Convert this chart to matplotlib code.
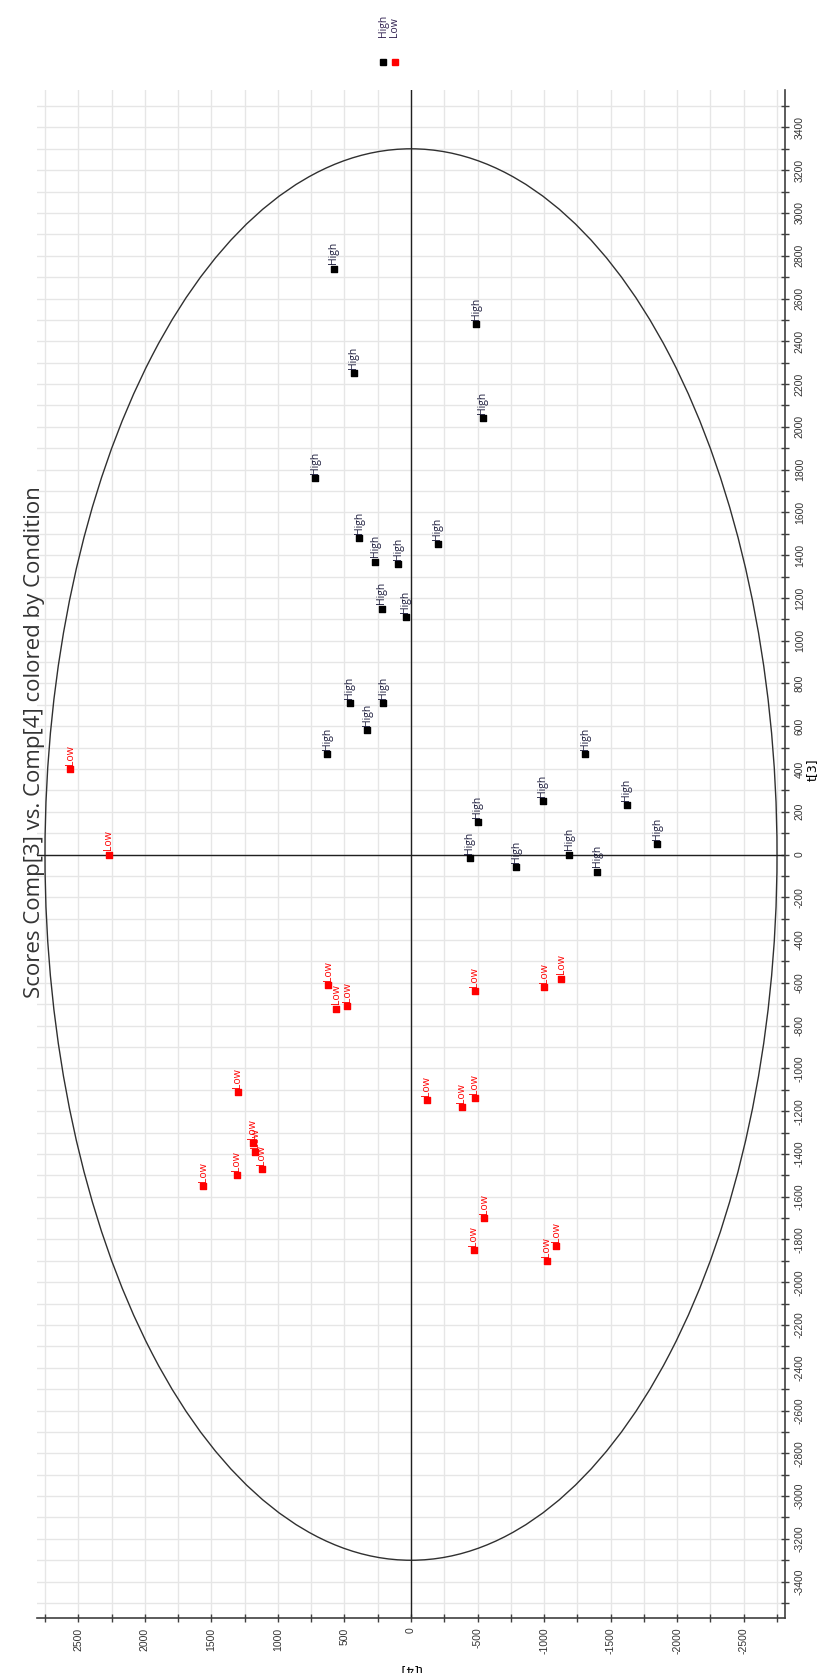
import numpy as np
import matplotlib.pyplot as plt
from matplotlib.patches import Ellipse
from matplotlib.ticker import MultipleLocator

plt.rcParams['axes.unicode_minus'] = False

# scores, t[4] (horizontal, reversed) and t[3] (vertical)
high_t4 = [580, -490, 430, -540, 720, 390, -200, 270, 95, 220, 40, 460, 210, 330, 630,
           -440, -500, -790, -990, -1190, -1310, -1400, -1620, -1850]
high_t3 = [2740, 2480, 2250, 2040, 1760, 1480, 1450, 1370, 1360, 1150, 1110, 710, 710, 580, 470,
           -15, 150, -60, 250, 0, 470, -80, 230, 50]
low_t4 = [2560, 2270, 620, 560, 480, 1300, 1190, 1170, 1120, 1310, 1560,
          -120, -380, -480, -480, -1000, -1130, -550, -470, -1020, -1090]
low_t3 = [400, 0, -610, -720, -710, -1110, -1350, -1390, -1470, -1500, -1550,
          -1150, -1180, -1140, -640, -620, -580, -1700, -1850, -1900, -1830]

ell_t4 = 2750
ell_t3 = 3300

fig = plt.figure(figsize=(8.27, 16.73), dpi=100)
ax = fig.add_axes([37 / 827, 55 / 1673, 748 / 827, 1528 / 1673])

ax.set_xlim(2810, -2810)
ax.set_ylim(-3570, 3575)

ax.xaxis.set_major_locator(MultipleLocator(500))
ax.xaxis.set_minor_locator(MultipleLocator(250))
ax.yaxis.set_major_locator(MultipleLocator(200))
ax.yaxis.set_minor_locator(MultipleLocator(100))
ax.grid(True, which='both', color='#e6e6e6', lw=1)
ax.set_axisbelow(True)

for s in ['top', 'left']:
    ax.spines[s].set_visible(False)
for s in ['bottom', 'right']:
    ax.spines[s].set_color('#404040')
    ax.spines[s].set_linewidth(1.2)

ax.yaxis.tick_right()
ax.tick_params(which='both', direction='inout', length=6, width=1, color='#404040')
ax.tick_params(axis='both', labelsize=7.5, labelcolor='#333333')
ax.tick_params(axis='x', labelrotation=90, pad=4)
ax.tick_params(axis='y', labelrotation=90, pad=4)
for lab in ax.get_yticklabels():
    lab.set_va('center')
    lab.set_fontfamily('Liberation Sans')
for lab in ax.get_xticklabels():
    lab.set_fontfamily('Liberation Sans')

ax.axhline(0, color='#202020', lw=1)
ax.axvline(0, color='#202020', lw=1)
ax.add_patch(Ellipse((0, 0), 2 * ell_t4, 2 * ell_t3, fill=False, ec='#303030', lw=1))

ax.scatter(high_t4, high_t3, marker='s', s=22, color='black', zorder=3)
ax.scatter(low_t4, low_t3, marker='s', s=22, color='red', zorder=3)
for x, y in zip(high_t4, high_t3):
    ax.annotate('High', (x, y), xytext=(0, 3), textcoords='offset points', rotation=90,
                ha='center', va='bottom', fontsize=7.5, color='#1a1a3a', family='Open Sans')
for x, y in zip(low_t4, low_t3):
    ax.annotate('Low', (x, y), xytext=(0, 3), textcoords='offset points', rotation=90,
                ha='center', va='bottom', fontsize=7.5, color='red', family='Open Sans')

ax.set_xlabel('t[4]', rotation=180, fontsize=9, labelpad=6)
fig.text(812 / 827, 1 - 770 / 1673, 't[3]', rotation=90, ha='center', va='center', fontsize=9)

fig.text(35 / 827, 1 - 742 / 1673, 'Scores Comp[3] vs. Comp[4] colored by Condition', rotation=90,
         ha='center', va='center', fontsize=16, color='#333333', family='Open Sans')

# legend
fig.lines.append(plt.Line2D([383 / 827], [1 - 62 / 1673], marker='s', ms=5, color='black',
                            transform=fig.transFigure))
fig.lines.append(plt.Line2D([395 / 827], [1 - 62 / 1673], marker='s', ms=5, color='red',
                            transform=fig.transFigure))
fig.text(383 / 827, 1 - 37 / 1673, 'High', rotation=90, ha='center', va='bottom', fontsize=7.5,
         color='#302050', family='Open Sans')
fig.text(395 / 827, 1 - 37 / 1673, 'Low', rotation=90, ha='center', va='bottom', fontsize=7.5,
         color='#302050', family='Open Sans')

fig.savefig('out.png', dpi=100)
